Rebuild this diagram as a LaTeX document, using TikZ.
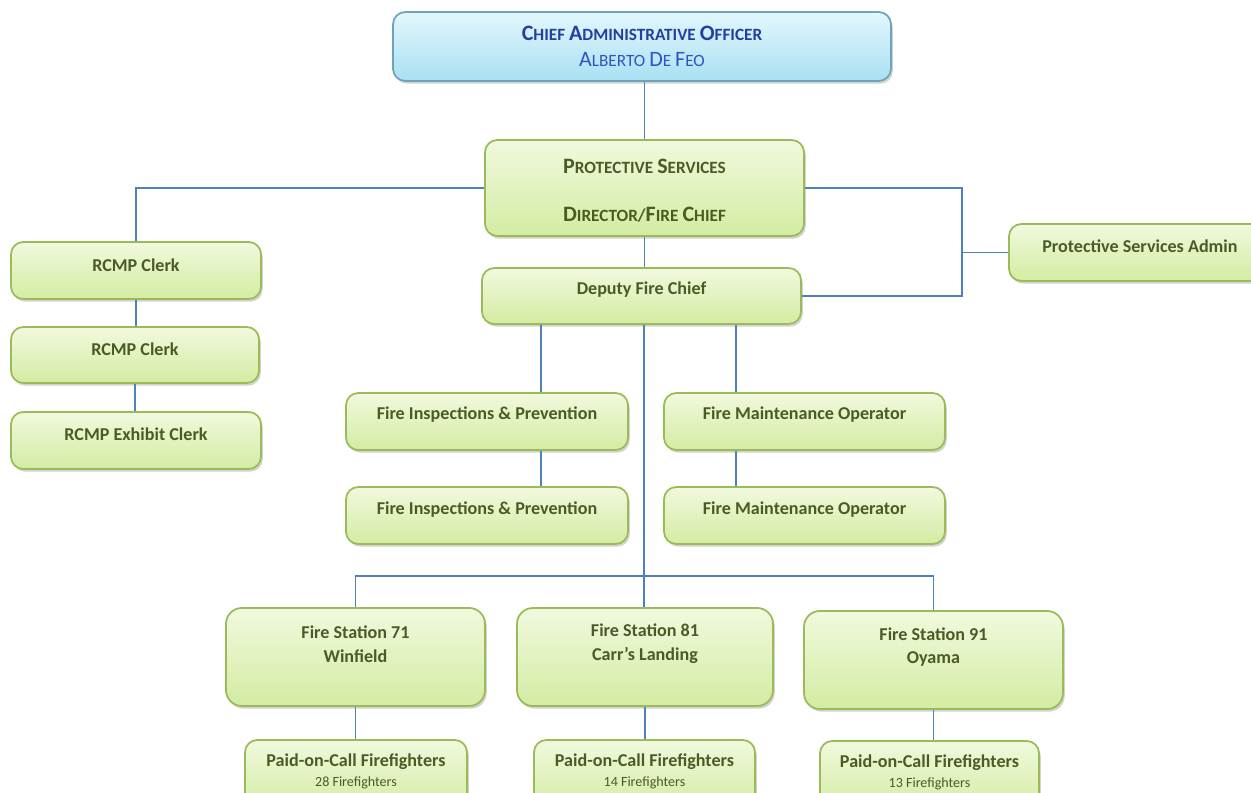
\documentclass[tikz,border=0pt]{standalone}
\usepackage{fontspec}
\setmainfont{Carlito}
\usetikzlibrary{shadows}

\definecolor{linkblue}{HTML}{4F81BD}
\definecolor{boxrim}{HTML}{9BBB59}
\definecolor{boxtop}{HTML}{F1F9DE}
\definecolor{boxbot}{HTML}{D3ECA2}
\definecolor{boxtext}{HTML}{4A5C26}
\definecolor{caorim}{HTML}{6FA3B8}
\definecolor{caotop}{HTML}{E3F7FD}
\definecolor{caobot}{HTML}{A8E0F3}
\definecolor{caotext}{HTML}{2340A0}
\definecolor{caoname}{HTML}{2F55C0}

% fake small caps
\newcommand{\fsc}[2]{{\fontsize{12.5}{14}\selectfont #1}{\fontsize{9.8}{14}\selectfont #2}}

\tikzset{
  gbox/.style={draw=boxrim, line width=1pt, rounded corners=7pt,
    top color=boxtop, bottom color=boxbot,
    drop shadow={shadow xshift=1pt, shadow yshift=-1.5pt, opacity=0.35}},
  boxsize/.style 2 args={minimum width=#1*0.02cm, minimum height=#2*0.02cm, inner sep=0pt},
  gtxt/.style={text=boxtext, font=\bfseries\fontsize{10.3}{13.5}\selectfont, align=center},
  link/.style={draw=linkblue, line width=1pt}
}

\begin{document}
\begin{tikzpicture}[x=0.02cm, y=-0.02cm]
  \useasboundingbox (0,0) rectangle (1251,793);

  % top
  \node[gbox, draw=caorim, top color=caotop, bottom color=caobot, boxsize={498}{69},
        align=center, text=caotext] (cao) at (642,46.5)
        {\bfseries\fsc{C}{HIEF} \fsc{A}{DMINISTRATIVE} \fsc{O}{FFICER}\\[3pt]
         \color{caoname}\fsc{A}{LBERTO} \fsc{D}{E} \fsc{F}{EO}};

  \node[gbox, boxsize={319}{96}] (psd) at (644.5,188) {};
  \node[gtxt] (psd-t) at (644.5,191)
        {\fsc{P}{ROTECTIVE} \fsc{S}{ERVICES}\\[14pt]\fsc{D}{IRECTOR}/\fsc{F}{IRE} \fsc{C}{HIEF}};

  \node[gbox, boxsize={319}{56}] (dfc) at (641.5,296) {};
  \node[gtxt] (dfc-t) at (641.5,290) {Deputy Fire Chief};

  % left column
  \node[gbox, boxsize={250}{57}] (rc1) at (136,270.5) {};
  \node[gtxt] (rc1-t) at (136,265) {RCMP Clerk};
  \node[gbox, boxsize={248}{56}] (rc2) at (135,355) {};
  \node[gtxt] (rc2-t) at (135,349) {RCMP Clerk};
  \node[gbox, boxsize={250}{57}] (rc3) at (136,440.5) {};
  \node[gtxt] (rc3-t) at (136,434) {RCMP Exhibit Clerk};

  % right side
  \node[gbox, boxsize={262}{57}] (adm) at (1140,252.5) {};
  \node[gtxt] (adm-t) at (1140,246) {Protective Services Admin};

  % middle
  \node[gbox, boxsize={282}{57}] (fi1) at (487,421.5) {};
  \node[gtxt] (fi1-t) at (487,415) {Fire Inspections \& Prevention};
  \node[gbox, boxsize={282}{57}] (fi2) at (487,515.5) {};
  \node[gtxt] (fi2-t) at (487,510) {Fire Inspections \& Prevention};
  \node[gbox, boxsize={281}{57}] (fm1) at (804.5,421.5) {};
  \node[gtxt] (fm1-t) at (804.5,415) {Fire Maintenance Operator};
  \node[gbox, boxsize={281}{57}] (fm2) at (804.5,515.5) {};
  \node[gtxt] (fm2-t) at (804.5,510) {Fire Maintenance Operator};

  % stations
  \node[gbox, rounded corners=9pt, boxsize={259}{98}] (fs71) at (355.5,657) {};
  \node[gtxt] (fs71-t) at (355.5,644) {Fire Station 71\\Winfield};
  \node[gbox, rounded corners=9pt, boxsize={256}{98}] (fs81) at (645,657) {};
  \node[gtxt] (fs81-t) at (645,644) {Fire Station 81\\Carr’s Landing};
  \node[gbox, rounded corners=9pt, boxsize={259}{98}] (fs91) at (933.5,660) {};
  \node[gtxt] (fs91-t) at (933.5,647) {Fire Station 91\\Oyama};

  \node[gbox, boxsize={222}{70}] (pc71) at (356,775) {};
  \node[gtxt] (pc71-t) at (356,771)
        {Paid-on-Call Firefighters\\[-2pt]{\mdseries\fontsize{8}{10}\selectfont 28 Firefighters}};
  \node[gbox, boxsize={221}{70}] (pc81) at (644.5,775) {};
  \node[gtxt] (pc81-t) at (644.5,771)
        {Paid-on-Call Firefighters\\[-2pt]{\mdseries\fontsize{8}{10}\selectfont 14 Firefighters}};
  \node[gbox, boxsize={219}{70}] (pc91) at (929.5,776) {};
  \node[gtxt] (pc91-t) at (929.5,772)
        {Paid-on-Call Firefighters\\[-2pt]{\mdseries\fontsize{8}{10}\selectfont 13 Firefighters}};

  % connectors
  \coordinate (jr) at (962,0);
  \coordinate (xl) at (541,0);
  \coordinate (xr) at (736,0);
  \coordinate (bus) at (644,576);

  \draw[link] (psd.north) -- (psd.north |- cao.south);
  \draw[link] (psd.west) -| (rc1.north);
  \draw[link] (rc1.south) -- (rc1.south |- rc2.north);
  \draw[link] (rc2.south) -- (rc2.south |- rc3.north);
  \draw[link] (psd.east) -| (jr |- dfc.east) -- (dfc.east);
  \draw[link] (adm.west) -- (adm.west -| jr);
  \draw[link] (psd.south) -- (psd.south |- dfc.north);
  \draw[link] (xl |- dfc.south) -- (xl |- fi1.north);
  \draw[link] (xl |- fi1.south) -- (xl |- fi2.north);
  \draw[link] (xr |- dfc.south) -- (xr |- fm1.north);
  \draw[link] (xr |- fm1.south) -- (xr |- fm2.north);
  \draw[link] (bus |- dfc.south) -- (bus);
  \draw[link] (fs71.north) |- (bus) -| (fs91.north);
  \draw[link] (bus) -- (bus |- fs81.north);
  \draw[link] (fs71.south) -- (fs71.south |- pc71.north);
  \draw[link] (fs81.south) -- (fs81.south |- pc81.north);
  \draw[link] (fs91.south) -- (fs91.south |- pc91.north);
\end{tikzpicture}
\end{document}
